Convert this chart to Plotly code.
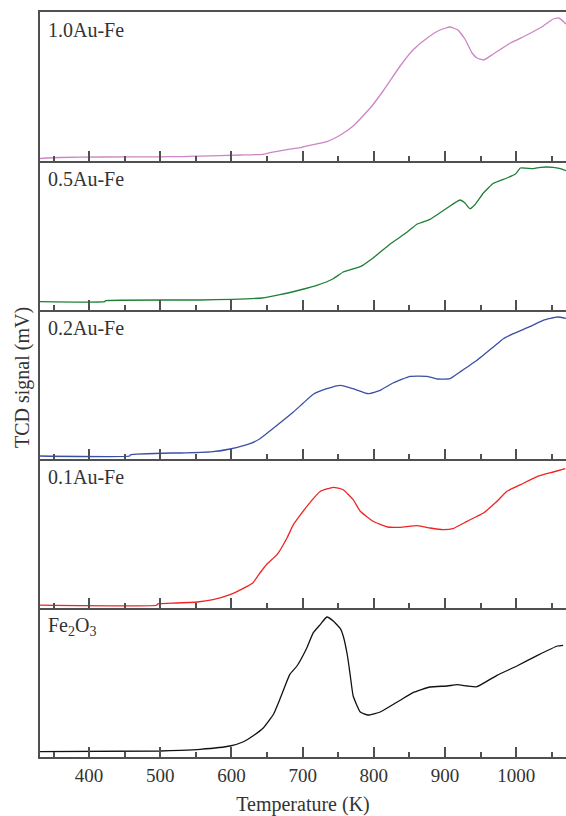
import plotly.graph_objects as go
from plotly.subplots import make_subplots

# ---------------- data (temperature in K, TCD signal in arbitrary units) ----------------
labels = ["1.0Au-Fe", "0.5Au-Fe", "0.2Au-Fe", "0.1Au-Fe", "Fe<sub>2</sub>O<sub>3</sub>"]
colors = ["#CC86C6", "#1E7F35", "#3A50A6", "#EE2424", "#111111"]

t_10 = [331, 359, 420, 500, 532, 549, 556, 612, 644, 654, 678, 696, 700, 734, 753, 771, 795, 813, 837, 855,
        875, 893, 907, 918, 928, 938, 945, 954, 968, 992, 1015, 1038, 1052, 1060, 1070]
s_10 = [2.5, 3.5, 4.0, 4.2, 4.4, 4.9, 4.9, 6.0, 6.7, 8.3, 11.3, 13.3, 14.0, 19.3, 26, 35, 53, 70, 95, 111,
        123, 131, 134, 131, 122, 108, 103, 101, 107, 118, 126, 135, 142, 143, 137]

t_05 = [331, 422, 423, 556, 601, 643, 668, 696, 720, 743, 757, 781, 799, 823, 847, 861, 879, 903, 921, 928,
        935, 942, 954, 968, 987, 999, 1006, 1024, 1034, 1052, 1062, 1070]
s_05 = [8.3, 8.3, 9.3, 10.0, 10.7, 12.0, 15.3, 20.0, 24.7, 31.3, 38.0, 43.3, 52.0, 66.0, 78.0, 86.0, 90.7,
        102, 110, 107, 101.3, 105.3, 117, 126.7, 132, 136, 142, 141.3, 142.7, 142.7, 141.3, 139.3]

t_02 = [331, 457, 458, 517, 528, 574, 598, 626, 640, 664, 687, 701, 715, 734, 753, 771, 792, 809, 827, 851,
        875, 889, 907, 921, 945, 968, 982, 996, 1020, 1038, 1058, 1070]
s_02 = [3.0, 3.0, 4.2, 6.0, 6.0, 7.3, 10.0, 15.3, 20.3, 33.7, 47.0, 56.0, 64.7, 70.3, 73.7, 70.3, 65.3, 68.7,
        76.0, 82.7, 82.7, 80.0, 80.3, 87.0, 98.7, 112, 120.3, 125.3, 132.7, 138.7, 142, 140.7]

t_01 = [331, 495, 496, 500, 552, 574, 598, 616, 630, 640, 650, 664, 678, 687, 706, 725, 743, 757, 771, 781,
        799, 819, 837, 861, 879, 897, 911, 931, 954, 973, 987, 1006, 1030, 1052, 1069]
s_01 = [2.8, 2.8, 4.0, 4.3, 6.0, 8.3, 13.3, 19.3, 25.0, 35.0, 44.0, 53.3, 70.0, 83.3, 101.7, 116.7, 120.7,
        118.3, 108.3, 96.7, 86.7, 81.0, 80.7, 82.3, 80.0, 78.3, 79.3, 86.7, 95.0, 106.7, 116.7, 123.3, 131.7,
        136.0, 139.3]

t_fe = [331, 500, 528, 556, 598, 616, 630, 645, 659, 668, 682, 692, 706, 715, 725, 734, 743, 753, 757, 763,
        767, 771, 781, 792, 809, 833, 855, 879, 903, 917, 931, 945, 973, 1001, 1030, 1058, 1066]
s_fe = [5.3, 6.0, 6.7, 7.7, 11.0, 15.0, 21.0, 29.3, 42.7, 57.7, 82.7, 91.0, 109.3, 124.3, 132.7, 140.0,
        136.0, 128.3, 121.0, 101.0, 81.0, 61.0, 45.0, 42.0, 45.0, 55.0, 64.3, 70.0, 71.0, 72.3, 71.0, 70.3,
        81.7, 91.0, 101.7, 111.0, 111.7]

temps = [t_10, t_05, t_02, t_01, t_fe]
signals = [s_10, s_05, s_02, s_01, s_fe]

x_ticks = [400, 500, 600, 700, 800, 900, 1000]
x_minor = [350, 450, 550, 650, 750, 850, 950, 1050]
x_range = [331, 1070]

# ---------------- figure ----------------
fig = make_subplots(rows=5, cols=1, shared_xaxes=True, vertical_spacing=0)
font_family = "Liberation Serif, Times New Roman, serif"
axis_col = "#505050"
text_col = "#333333"

for i in range(5):
    fig.add_trace(go.Scatter(x=temps[i], y=signals[i], mode="lines",
                             line=dict(color=colors[i], width=1.3, shape="spline", smoothing=0.4),
                             showlegend=False, hoverinfo="skip", cliponaxis=False), row=i + 1, col=1)
    fig.update_yaxes(range=[0, 149], showticklabels=False, ticks="", showgrid=False, zeroline=False,
                     showline=True, linecolor=axis_col, linewidth=2, mirror=False, row=i + 1, col=1)
    fig.update_xaxes(range=x_range, tickvals=x_ticks, ticks="inside", ticklen=10, tickwidth=1.5,
                     tickcolor=axis_col, showgrid=False, zeroline=False, showline=True,
                     linecolor=axis_col, linewidth=2, mirror=(i == 0),
                     minor=dict(tickvals=x_minor, ticks="inside",
                                ticklen=5, tickwidth=1.5, tickcolor=axis_col, showgrid=False),
                     tickfont=dict(family=font_family, size=19, color=text_col),
                     row=i + 1, col=1)
    xref = "x domain" if i == 0 else f"x{i + 1} domain"
    yref = "y domain" if i == 0 else f"y{i + 1} domain"
    fig.add_annotation(text=labels[i], xref=xref, yref=yref, x=0.012, y=1 - 18 / 149,
                       xanchor="left", yanchor="middle", showarrow=False,
                       font=dict(family=font_family, size=20, color=text_col))

fig.update_xaxes(title=dict(text="Temperature (K)", standoff=12,
                            font=dict(family=font_family, size=20, color=text_col)), row=5, col=1)

fig.add_annotation(text="TCD signal (mV)", xref="paper", yref="paper", x=0, y=(757 - 378) / 745,
                   xshift=-18, xanchor="center", yanchor="middle", textangle=-90, showarrow=False,
                   font=dict(family=font_family, size=20, color=text_col))

fig.update_layout(width=566, height=816, margin=dict(l=40, r=0, t=12, b=59),
                  plot_bgcolor="white", paper_bgcolor="white")

fig.write_html("out.html")
